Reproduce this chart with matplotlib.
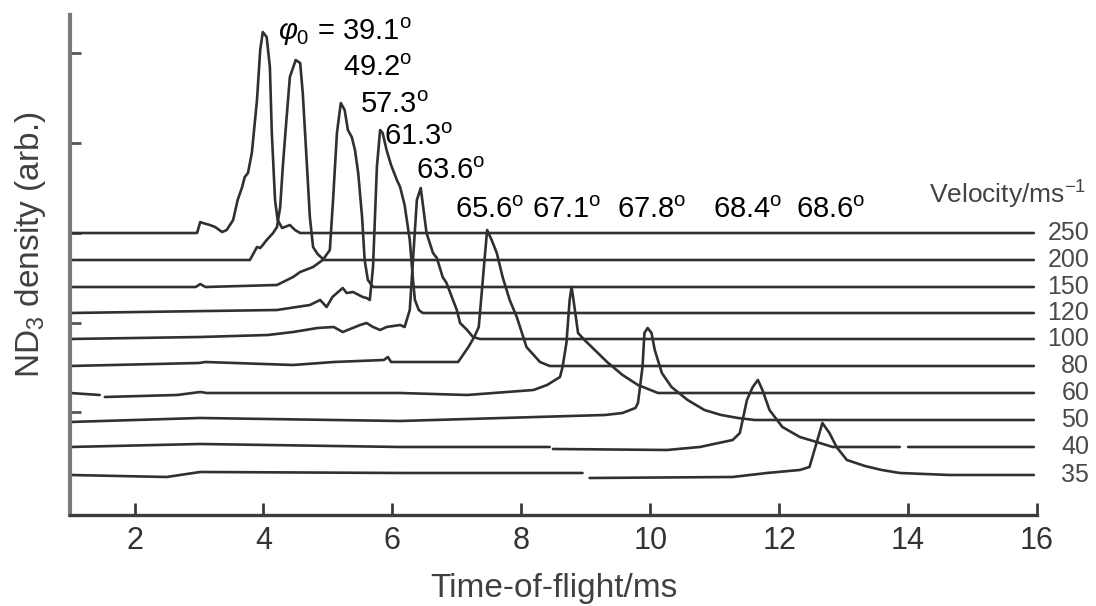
import numpy as np
import matplotlib
matplotlib.use("Agg")
import matplotlib.pyplot as plt
from matplotlib import font_manager

nan = np.nan

# Nominal beam velocities (m/s), one trace each, top to bottom
velocities = ["250", "200", "150", "120", "100", "80", "60", "50", "40", "35"]
# Vertical offset of each trace (arb.)
offsets = [28.2, 25.5, 22.8, 20.2, 17.6, 14.9, 12.2, 9.5, 6.8, 4.0]
# Launch angle for each trace (deg)
phi0 = ["39.1", "49.2", "57.3", "61.3", "63.6", "65.6", "67.1", "67.8", "68.4", "68.6"]

# ND3 density traces: time-of-flight (ms) and signal (arb.)
t_250 = [1.0, 2.97, 3.02, 3.06, 3.17, 3.25, 3.36, 3.43, 3.53, 3.60, 3.67, 3.71, 3.76, 3.82,
         3.90, 3.95, 3.99, 4.05, 4.10, 4.13, 4.18, 4.22, 4.29, 4.41, 4.49, 4.57, 15.95]
s_250 = [0.0, 0.0, 1.1, 1.0, 0.8, 0.6, 0.1, 0.3, 1.3, 3.3, 4.6, 5.6, 6.0, 8.0,
         13.3, 18.3, 20.1, 19.6, 16.6, 10.0, 3.3, 1.3, 0.5, 0.8, 0.3, 0.0, 0.0]

t_200 = [1.0, 3.79, 3.90, 3.95, 3.99, 4.05, 4.15, 4.21, 4.26, 4.30, 4.36, 4.41, 4.50, 4.57,
         4.61, 4.67, 4.72, 4.77, 4.84, 4.94, 15.95]
s_200 = [0.0, 0.0, 1.3, 1.2, 1.5, 2.0, 2.7, 3.3, 5.3, 9.3, 14.3, 18.3, 20.0, 19.7,
         16.7, 10.0, 4.3, 1.3, 0.6, 0.0, 0.0]

t_150 = [1.0, 2.95, 3.02, 3.10, 4.21, 4.46, 4.57, 4.77, 4.92, 5.03, 5.08, 5.14, 5.20, 5.26,
         5.31, 5.37, 5.42, 5.47, 5.53, 5.57, 5.62, 5.70, 15.95]
s_150 = [0.0, 0.0, 0.3, 0.0, 0.2, 1.0, 1.5, 2.0, 2.7, 3.7, 8.7, 15.4, 18.4, 17.7,
         15.7, 15.0, 13.7, 11.4, 7.0, 2.7, 0.7, 0.0, 0.0]

t_120 = [1.0, 4.21, 4.72, 4.88, 4.98, 5.07, 5.23, 5.29, 5.39, 5.54, 5.60, 5.65, 5.70, 5.76,
         5.81, 5.85, 5.91, 5.98, 6.07, 6.12, 6.19, 6.27, 6.32, 6.35, 6.41, 6.47, 15.95]
s_120 = [0.0, 0.3, 0.8, 1.3, 0.6, 1.6, 2.5, 2.0, 2.1, 1.6, 1.5, 1.3, 4.6, 14.6,
         18.3, 18.0, 16.3, 14.8, 13.3, 12.6, 10.8, 7.3, 3.3, 1.3, 0.3, 0.0, 0.0]

t_100 = [1.0, 3.02, 4.07, 4.46, 4.84, 5.09, 5.23, 5.50, 5.60, 5.70, 5.81, 5.91, 6.12, 6.19,
         6.27, 6.38, 6.44, 6.53, 6.63, 6.69, 6.78, 6.84, 6.94, 7.00, 7.05, 7.16, 7.25, 7.36, 15.95]
s_100 = [0.0, 0.2, 0.4, 0.7, 1.1, 1.2, 0.7, 1.4, 1.6, 1.2, 0.9, 1.2, 1.4, 1.2,
         2.9, 13.9, 15.1, 10.6, 8.6, 8.1, 6.2, 5.6, 3.9, 2.9, 1.6, 0.9, 0.2, 0.0, 0.0]

t_80 = [1.0, 3.00, 3.10, 4.46, 5.09, 5.87, 5.93, 5.98, 6.65, 7.02, 7.18, 7.27, 7.34, 7.42,
        7.47, 7.54, 7.62, 7.71, 7.82, 7.93, 8.08, 8.29, 8.44, 15.95]
s_80 = [0.0, 0.3, 0.4, 0.1, 0.4, 0.6, 0.9, 0.4, 0.4, 0.4, 1.9, 2.9, 3.9, 9.9,
        13.6, 12.6, 11.3, 8.9, 6.6, 4.9, 1.9, 0.4, 0.0, 0.0]

t_60 = [1.0, 1.46, nan, 1.54, 2.66, 3.02, 3.12, 6.12, 7.16, 8.19, 8.40, 8.60, 8.64, 8.70,
        8.75, 8.78, 8.81, 8.88, 8.98, 9.14, 9.33, 9.57, 9.81, 10.12, 15.95]
s_60 = [0.0, -0.2, nan, -0.4, -0.2, 0.1, 0.0, 0.0, -0.2, 0.3, 0.8, 1.6, 2.6, 5.0,
        9.3, 10.6, 9.3, 6.0, 5.3, 4.3, 3.1, 1.8, 0.8, 0.0, 0.0]

t_50 = [1.0, 3.02, 6.12, 9.30, 9.57, 9.77, 9.81, 9.88, 9.91, 9.96, 10.02, 10.07, 10.18,
        10.33, 10.58, 10.84, 11.10, 11.36, 11.62, 15.95]
s_50 = [-0.2, 0.2, -0.1, 0.5, 0.7, 1.2, 1.7, 5.3, 8.7, 9.2, 8.7, 7.0, 4.7,
        3.3, 2.0, 1.0, 0.5, 0.2, 0.0, 0.0]

t_40 = [1.0, 3.02, 6.12, 8.44, nan, 8.49, 10.26, 10.77, 11.28, 11.39, 11.50, 11.59, 11.67,
        11.74, 11.85, 12.05, 12.32, 12.63, 12.83, 13.87, nan, 14.00, 15.95]
s_40 = [0.0, 0.3, 0.0, 0.0, nan, -0.2, -0.3, 0.0, 0.7, 1.4, 4.7, 6.0, 6.7,
        5.7, 3.7, 2.0, 1.0, 0.4, 0.0, 0.0, nan, 0.0, 0.0]

t_35 = [1.0, 2.50, 3.02, 6.12, 8.95, nan, 9.06, 11.28, 11.81, 12.32, 12.47, 12.58, 12.67,
        12.78, 12.89, 13.05, 13.33, 13.59, 13.87, 14.64, 15.95]
s_35 = [0.0, -0.2, 0.3, 0.2, 0.2, nan, -0.3, -0.2, 0.2, 0.5, 0.8, 3.2, 5.2,
        4.2, 2.8, 1.5, 0.9, 0.5, 0.2, 0.0, 0.0]

times = [t_250, t_200, t_150, t_120, t_100, t_80, t_60, t_50, t_40, t_35]
signals = [s_250, s_200, s_150, s_120, s_100, s_80, s_60, s_50, s_40, s_35]

# Label anchors for the launch-angle annotations (ms, arb.)
phi_x = [4.22, 5.23, 5.50, 5.87, 6.36, 6.97, 8.16, 9.48, 10.97, 12.26]
phi_y = [48.3, 44.7, 41.0, 37.8, 34.4, 30.5, 30.5, 30.5, 30.5, 30.5]

xticks = [2, 4, 6, 8, 10, 12, 14, 16]
yticks = [10.3, 19.2, 28.2, 37.2, 46.2]

available = {f.name for f in font_manager.fontManager.ttflist}
sans = "Liberation Sans" if "Liberation Sans" in available else "DejaVu Sans"
narrow = "Liberation Sans Narrow" if "Liberation Sans Narrow" in available else sans

plt.rcParams["font.family"] = [sans, "DejaVu Sans"]
plt.rcParams["mathtext.fontset"] = "custom"
plt.rcParams["mathtext.rm"] = sans
plt.rcParams["mathtext.it"] = sans + ":italic"
plt.rcParams["mathtext.fallback"] = "stix"

fig = plt.figure(figsize=(10.96, 6.06), dpi=100)
ax = fig.add_axes([0.0639, 0.1502, 0.8823, 0.8250])

line_color = "#303030"
for t, s, off in zip(times, signals, offsets):
    ax.plot(t, np.asarray(s) + off, color=line_color, lw=1.9,
            solid_joinstyle="round", solid_capstyle="round")

ax.set_xlim(1, 16)
ax.set_ylim(0, 50)

for side in ("top", "right"):
    ax.spines[side].set_visible(False)
ax.spines["left"].set_color("#7a7a7a")
ax.spines["left"].set_linewidth(3.0)
ax.spines["bottom"].set_color("#3c3c3c")
ax.spines["bottom"].set_linewidth(2.4)

ax.set_xticks(xticks)
ax.set_xticklabels([str(v) for v in xticks])
ax.tick_params(axis="x", direction="in", length=9, width=2.0, color="#3c3c3c",
               labelsize=22, labelcolor="#333333", pad=8)
ax.set_yticks(yticks)
ax.set_yticklabels([])
ax.tick_params(axis="y", direction="in", length=8, width=2.0, color="#555555")

ax.set_xlabel("Time-of-flight/ms", fontsize=24, color="#404040", labelpad=12)
ax.set_ylabel("ND$_3$ density (arb.)", fontsize=24, color="#404040")
ax.yaxis.label.set_va("center")
ax.yaxis.set_label_coords(-0.041, 0.54)

# Launch-angle annotations
for k, (lab, x, y) in enumerate(zip(phi0, phi_x, phi_y)):
    txt = lab + r"$^{\mathrm{o}}$"
    if k == 0:
        txt = r"$\varphi_0$ = " + txt
    ax.text(x, y, txt, fontsize=21, color="black", ha="left", va="center", clip_on=False)

# Velocity labels at the right end of each trace
for lab, off in zip(velocities, offsets):
    ax.text(16.81, off, lab, fontsize=18, color="#4a4a4a", ha="right", va="center",
            family=narrow, clip_on=False)
ax.text(16.77, 32.0, "Velocity/ms$^{-1}$", fontsize=19, color="#444444",
        ha="right", va="center", clip_on=False)

fig.savefig("out.png", dpi=100)
